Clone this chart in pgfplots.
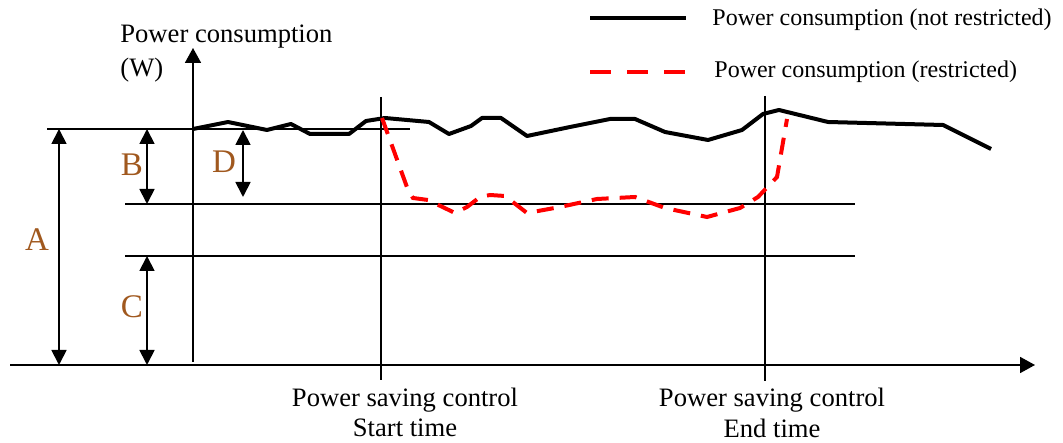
\documentclass[border=0pt]{standalone}
\usepackage{fontspec}
\setmainfont{Liberation Serif}
\usepackage{pgfplots}
\pgfplotsset{compat=1.18}
\usetikzlibrary{arrows.meta}
\definecolor{lbl}{RGB}{160,88,30}
\pgfplotstableread{
x y
193 314
228 321
267 313
291 319
310 309
349 309
366 322
385 325
429 321
449 309
471 317
482 325
501 325
527 307
570 316
590 320
610 324
635 324
665 311
708 303
742 313
763 329
779 333
828 321
943 318
991 294
}\free
\pgfplotstableread{
x y
382 325
408 253
413 245
428 243
455 230
467 236
480 246
490 248
505 247
527 230
560 236
597 244
635 246
665 235
707 226
740 235
758 246
777 266
787 324
}\restr
\begin{document}
\begin{tikzpicture}
\begin{axis}[scale only axis, width=531.5pt, height=221.5pt,
  xmin=0, xmax=1063, ymin=0, ymax=443, hide axis, clip=false]
\addplot[draw=none] coordinates {(0,0) (1063,443)};
% reference lines
\addplot[black, line width=0.9pt] coordinates {(47,314) (410,314)};
\addplot[black, line width=0.9pt] coordinates {(125,239) (855,239)};
\addplot[black, line width=0.9pt] coordinates {(125,187) (855,187)};
\addplot[black, line width=0.9pt] coordinates {(381,346) (381,63)};
\addplot[black, line width=0.9pt] coordinates {(765,347) (765,62)};
% axes
\addplot[black, line width=0.9pt, -{Triangle[width=8pt,length=7.5pt]}] coordinates {(193,81) (193,395)};
\addplot[black, line width=0.9pt, -{Triangle[width=8pt,length=7.5pt]}] coordinates {(10,78) (1035,78)};
% dimension arrows
\addplot[black, line width=0.9pt, {Triangle[width=7.5pt,length=7.5pt]}-{Triangle[width=7.5pt,length=7.5pt]}] coordinates {(59,314) (59,78)};
\addplot[black, line width=0.9pt, {Triangle[width=7.5pt,length=7.5pt]}-{Triangle[width=7.5pt,length=7.5pt]}] coordinates {(147,314) (147,239)};
\addplot[black, line width=0.9pt, {Triangle[width=7.5pt,length=7.5pt]}-{Triangle[width=7.5pt,length=7.5pt]}] coordinates {(147,187) (147,78)};
\addplot[black, line width=0.9pt, {Triangle[width=7.5pt,length=7.5pt]}-{Triangle[width=7.5pt,length=7.5pt]}] coordinates {(243,313) (243,246)};
% data
\addplot[black, line width=2pt, line join=round] table {\free};
\addplot[red, line width=2pt, dash pattern=on 8.5pt off 5.5pt] table {\restr};
% legend
\addplot[black, line width=2pt] coordinates {(590,425) (686,425)};
\addplot[red, line width=2pt, dash pattern=on 10.5pt off 8pt] coordinates {(590,371) (686,371)};
\node[anchor=west, inner sep=0, font=\fontsize{12}{14}\selectfont] at (axis cs:712,423) {Power consumption (not restricted)};
\node[anchor=west, inner sep=0, font=\fontsize{12}{14}\selectfont] at (axis cs:714,371) {Power consumption (restricted)};
% labels
\node[anchor=west, inner sep=0, font=\fontsize{13.3}{15}\selectfont] at (axis cs:120,406) {Power consumption};
\node[anchor=west, inner sep=0, font=\fontsize{13.3}{15}\selectfont] at (axis cs:120,373) {(W)};
\node[inner sep=0, font=\fontsize{13.3}{15}\selectfont] at (axis cs:405,43) {Power saving control};
\node[inner sep=0, font=\fontsize{13.3}{15}\selectfont] at (axis cs:405,15) {Start time};
\node[inner sep=0, font=\fontsize{13.3}{15}\selectfont] at (axis cs:772,43) {Power saving control};
\node[inner sep=0, font=\fontsize{13.3}{15}\selectfont] at (axis cs:772,15) {End time};
\node[inner sep=0, text=lbl, font=\fontsize{16.5}{18}\selectfont] at (axis cs:37,203) {A};
\node[inner sep=0, text=lbl, font=\fontsize{16.5}{18}\selectfont] at (axis cs:132,278) {B};
\node[inner sep=0, text=lbl, font=\fontsize{16.5}{18}\selectfont] at (axis cs:132,136) {C};
\node[inner sep=0, text=lbl, font=\fontsize{16.5}{18}\selectfont] at (axis cs:224,281) {D};
\end{axis}
\end{tikzpicture}
\end{document}
